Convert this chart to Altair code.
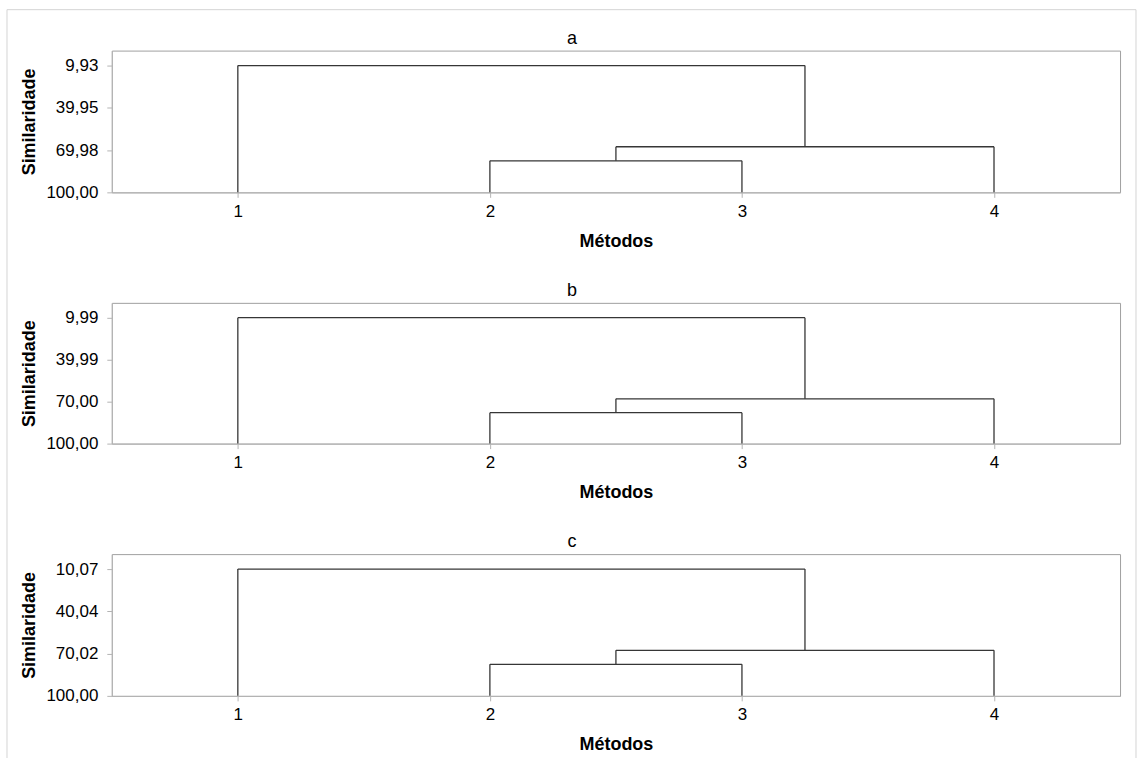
import altair as alt
import pandas as pd

# Leaf positions (methods) along the x axis
leaves = [1, 2, 3, 4]
panel_names = ["a", "b", "c"]

# Similarity level at which each merge happens, per panel
merge_23 = [77.6, 77.9, 77.6]      # 2 joins 3
merge_234 = [67.6, 68.0, 67.7]     # (2,3) joins 4
merge_all = [9.93, 9.99, 10.07]    # 1 joins (2,3,4)

# Y tick values shown on each panel
y_ticks = [
    [9.93, 39.95, 69.98, 100.00],
    [9.99, 39.99, 70.00, 100.00],
    [10.07, 40.04, 70.02, 100.00],
]

panel_heights = [142, 141, 142]
FONT = "Liberation Sans"
LINE = "#363636"


def dendro_segments(h23, h234, hall):
    base = 100.0
    p23 = (leaves[1] + leaves[2]) / 2
    p234 = (p23 + leaves[3]) / 2
    segs = [
        (leaves[1], leaves[1], base, h23),
        (leaves[2], leaves[2], base, h23),
        (leaves[1], leaves[2], h23, h23),
        (p23, p23, h23, h234),
        (leaves[3], leaves[3], base, h234),
        (p23, leaves[3], h234, h234),
        (leaves[0], leaves[0], base, hall),
        (p234, p234, h234, hall),
        (leaves[0], p234, hall, hall),
    ]
    return pd.DataFrame(segs, columns=["x", "x2", "y", "y2"])


panels = []
for i, name in enumerate(panel_names):
    df = dendro_segments(merge_23[i], merge_234[i], merge_all[i])
    lo = merge_all[i]
    top = lo - (100.0 - lo) * 0.118
    yscale = alt.Scale(domain=[100.0, top], nice=False, zero=False)
    xscale = alt.Scale(domain=[0.5, 4.5], nice=False, zero=False)

    rules = alt.Chart(df).mark_rule(color=LINE, strokeWidth=1.3).encode(
        x=alt.X(
            "x:Q",
            scale=xscale,
            axis=alt.Axis(
                values=leaves,
                format="d",
                title="Métodos",
                labelPadding=6,
                titlePadding=13,
            ),
        ),
        x2="x2",
        y=alt.Y(
            "y:Q",
            scale=yscale,
            axis=alt.Axis(
                values=y_ticks[i],
                labelExpr="replace(format(datum.value, '.2f'), '.', ',')",
                title="Similaridade",
                labelPadding=9,
                titlePadding=7,
            ),
        ),
        y2="y2",
    )

    # panel letter above the plot area
    label = alt.Chart(alt.Data(values=[{"t": name}])).mark_text(
        font=FONT, fontSize=18, color="black", align="center", baseline="middle"
    ).encode(text="t:N", x=alt.value(461), y=alt.value(-12))

    layers = [rules, label]
    if i == 0:
        # light outer frame around the whole figure
        frame = alt.Chart(alt.Data(values=[{}])).mark_rect(
            fill=None, stroke="#d4d4d4", strokeWidth=1
        ).encode(
            x=alt.value(-105),
            x2=alt.value(1026),
            y=alt.value(-41),
            y2=alt.value(730),
        )
        layers = [frame, rules, label]

    panel = alt.layer(*layers).properties(width=1010, height=panel_heights[i])
    panels.append(panel)

chart = (
    alt.vconcat(*panels, spacing=110.7, bounds="flush")
    .properties(padding={"left": 6, "top": 8, "right": 2, "bottom": 0})
    .configure_view(stroke="#a0a0a0", strokeWidth=1)
    .configure_axis(
        labelFont=FONT,
        titleFont=FONT,
        labelFontSize=17,
        titleFontSize=18,
        titleFontWeight="bold",
        labelColor="black",
        titleColor="black",
        grid=False,
        domainColor="#b4b4b4",
        tickColor="#b4b4b4",
        tickSize=5,
    )
)

chart.save("out.html", embed_options={"renderer": "svg", "actions": False})
